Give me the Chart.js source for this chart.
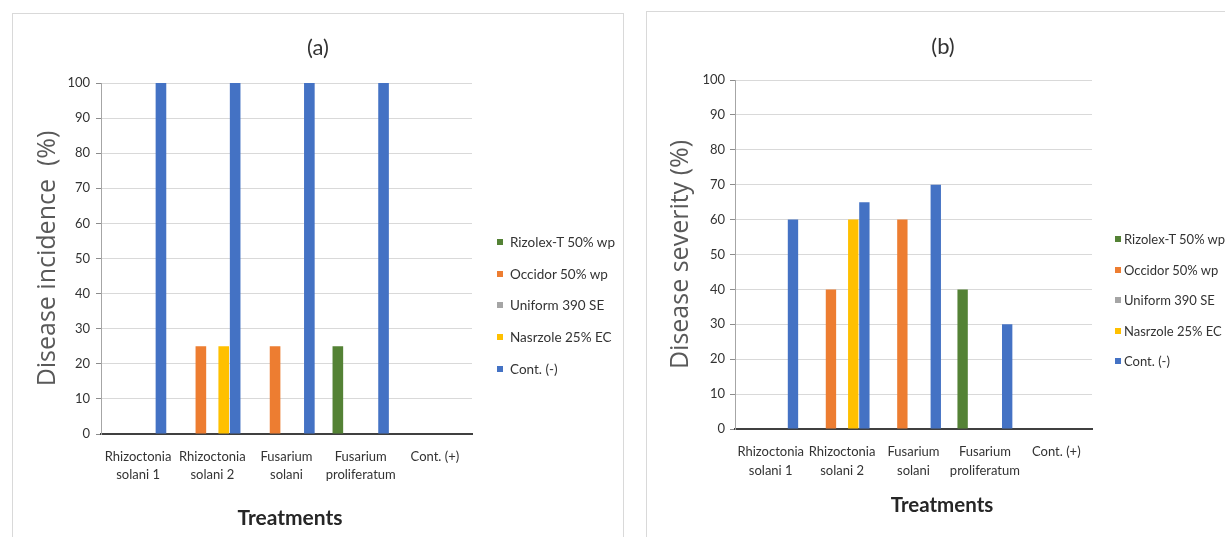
<!DOCTYPE html>
<html>
<head>
<meta charset="utf-8">
<script src="https://cdn.jsdelivr.net/npm/chart.js"></script>
<style>
html,body{margin:0;padding:0;background:#fff;}
body{width:1225px;height:537px;overflow:hidden;position:relative;}
.panel{position:absolute;border:1px solid #d9d9d9;box-sizing:border-box;}
canvas{position:absolute;}
.txt{position:absolute;white-space:nowrap;font-family:Lato,"Liberation Sans",sans-serif;color:#333;transform:translate(-50%,-50%);}
.lg{position:absolute;white-space:nowrap;font-family:Lato,"Liberation Sans",sans-serif;color:#333;line-height:18px;transform:translateY(-50%);}
.sq{position:absolute;width:6px;height:6px;transform:translateY(-50%);}
</style>
</head>
<body>
<div class="panel" style="left:12px;top:13px;width:612px;height:540px"></div>
<div class="panel" style="left:646px;top:11px;width:600px;height:540px"></div>
<canvas id="ca" width="640" height="537" style="left:0;top:0"></canvas>
<canvas id="cb" width="585" height="537" style="left:640px;top:0"></canvas>
<div class="txt" style="left:318px;top:46px;font-size:22px">(a)</div>
<div class="txt" style="left:943px;top:45px;font-size:22px">(b)</div>
<div class="txt" style="left:290px;top:516px;font-size:21px;font-weight:bold;color:#262626">Treatments</div>
<div class="txt" style="left:942px;top:504px;font-size:20.5px;font-weight:bold;color:#262626">Treatments</div>
<div id="legA"></div>
<div id="legB"></div>
<script>
// ---- data ----
const categories = [["Rhizoctonia","solani 1"],["Rhizoctonia","solani 2"],["Fusarium","solani"],["Fusarium","proliferatum"],"Cont. (+)"];
const seriesNames = ["Rizolex-T 50% wp","Occidor 50% wp","Uniform 390 SE","Nasrzole 25% EC","Cont. (-)"];
const seriesColors = ["#548235","#ED7D31","#A5A5A5","#FFC000","#4472C4"];

// (a) Disease incidence (%)
const incRizolex  = [0, 0, 0, 25, 0];
const incOccidor  = [0, 25, 25, 0, 0];
const incUniform  = [0, 0, 0, 0, 0];
const incNasrzole = [0, 25, 0, 0, 0];
const incContNeg  = [100, 100, 100, 100, 0];

// (b) Disease severity (%)
const sevRizolex  = [0, 0, 0, 40, 0];
const sevOccidor  = [0, 40, 60, 0, 0];
const sevUniform  = [0, 0, 0, 0, 0];
const sevNasrzole = [0, 60, 0, 0, 0];
const sevContNeg  = [60, 65, 70, 30, 0];

const yTickValues = [0,10,20,30,40,50,60,70,80,90,100];

const tickFont = "Lato, 'Liberation Sans', sans-serif";

function makeChart(id, values, cfg){
  const datasets = seriesNames.map((n,i)=>({
    label:n, data:values[i], backgroundColor:seriesColors[i], borderWidth:0,
    categoryPercentage:cfg.catPct, barPercentage:cfg.barPct
  }));
  return new Chart(document.getElementById(id), {
    type:'bar',
    data:{labels:categories, datasets},
    options:{
      responsive:false, animation:false, events:[],
      layout:{padding:{left:0, top:cfg.top, right:cfg.right, bottom:cfg.bottom}},
      plugins:{legend:{display:false}, title:{display:false}, tooltip:{enabled:false}},
      scales:{
        x:{
          type:'category', z:1,
          grid:{display:false, drawTicks:false},
          border:{display:true, color:'#404040', width:2},
          ticks:{font:{family:tickFont, size:13, lineHeight:cfg.tickLH}, color:'#333', padding:cfg.xPad, maxRotation:0, minRotation:0, autoSkip:false},
          afterFit:s=>{ s.height = cfg.xH; }
        },
        y:{
          min:0, max:100,
          afterBuildTicks:s=>{ s.ticks = yTickValues.map(v=>({value:v})); },
          ticks:{font:{family:tickFont, size:13}, color:'#333', padding:cfg.yPad},
          grid:{color:'#d9d9d9', lineWidth:1, tickLength:5, tickColor:'#8c8c8c', drawTicks:true},
          border:{display:true, color:'#a6a6a6', width:1},
          title:{display:true, text:cfg.yTitle, font:{family:"'Open Sans', sans-serif", size:cfg.yTitleSize, lineHeight:1.2}, color:'#595959', padding:{top:cfg.yTitlePad, bottom:0}},
          afterFit:s=>{ s.width = cfg.yW; }
        }
      }
    }
  });
}

makeChart('ca', [incRizolex, incOccidor, incUniform, incNasrzole, incContNeg], {
  top:83, right:168, bottom:23, xH:80, yW:101, catPct:0.77, barPct:0.93,
  tickLH:1.45, xPad:13, yPad:6, yTitle:"Disease incidence  (%)", yTitleSize:25, yTitlePad:33
});
makeChart('cb', [sevRizolex, sevOccidor, sevUniform, sevNasrzole, sevContNeg], {
  top:80, right:133, bottom:28, xH:80, yW:95, catPct:0.78, barPct:0.93,
  tickLH:1.5, xPad:13, yPad:5, yTitle:"Disease severity (%)", yTitleSize:25, yTitlePad:26
});

function makeLegend(elId, cfg){
  const el = document.getElementById(elId);
  seriesNames.forEach((n,i)=>{
    const y = cfg.y0 + i*cfg.dy;
    const sq = document.createElement('div');
    sq.className='sq'; sq.style.left=cfg.sx+'px'; sq.style.top=y+'px'; sq.style.background=seriesColors[i];
    const t = document.createElement('div');
    t.className='lg'; t.style.left=cfg.tx+'px'; t.style.top=y+'px'; t.style.fontSize=cfg.fs+'px'; t.textContent=n;
    el.appendChild(sq); el.appendChild(t);
  });
}
makeLegend('legA', {y0:242, dy:31.7, sx:497, tx:510, fs:13.5});
makeLegend('legB', {y0:239, dy:30.6, sx:1115, tx:1124, fs:13});
</script>
</body>
</html>
